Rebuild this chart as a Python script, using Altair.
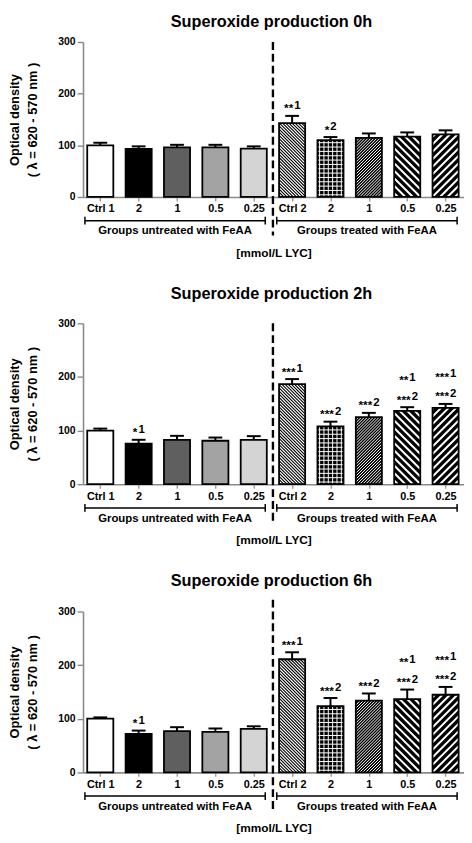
import json
import altair as alt
import pandas as pd

# ---------------- data ----------------
labels = ["Ctrl 1", "2", "1", "0.5", "0.25", "Ctrl 2", "2", "1", "0.5", "0.25"]
groups = ["Groups untreated with FeAA"] * 5 + ["Groups treated with FeAA"] * 5
titles = ["Superoxide production 0h", "Superoxide production 2h", "Superoxide production 6h"]
x_title = "[mmol/L LYC]"
y_title = ["Optical density", "( λ = 620 - 570 nm )"]

mean_0h = [100, 93, 96, 96, 93.5, 143, 110, 114.6, 117, 121]
err_0h = [105, 98, 101, 101, 98, 157, 116, 123, 125, 129]
mean_2h = [100, 75.5, 82.8, 81, 82.8, 186.5, 108, 125, 136.8, 142.3]
err_2h = [103.7, 82.8, 90.2, 87, 89.6, 196, 116.6, 133, 143.6, 149.7]
mean_6h = [100.2, 72, 77, 75.7, 81.2, 211, 123.4, 133.8, 136.8, 144.8]
err_6h = [102.6, 78, 84.3, 81.9, 86, 224, 138.7, 147.2, 154.5, 159.4]

# significance annotations: bar index, stars, comparison digit, stacking row
ann_bar_0h = [5, 6]
ann_stars_0h = ["**", "*"]
ann_digit_0h = ["1", "2"]
ann_row_0h = [0, 0]

ann_bar_2h = [1, 5, 6, 7, 8, 8, 9, 9]
ann_stars_2h = ["*", "***", "***", "***", "***", "**", "***", "***"]
ann_digit_2h = ["1", "1", "2", "2", "2", "1", "2", "1"]
ann_row_2h = [0, 0, 0, 0, 0, 1, 0, 1]

ann_bar_6h = [1, 5, 6, 7, 8, 8, 9, 9]
ann_stars_6h = ["*", "***", "***", "***", "***", "**", "***", "***"]
ann_digit_6h = ["1", "1", "2", "2", "2", "1", "2", "1"]
ann_row_6h = [0, 0, 0, 0, 0, 1, 0, 1]

MEANS = [mean_0h, mean_2h, mean_6h]
ERRS = [err_0h, err_2h, err_6h]
ANNS = [
    (ann_bar_0h, ann_stars_0h, ann_digit_0h, ann_row_0h),
    (ann_bar_2h, ann_stars_2h, ann_digit_2h, ann_row_2h),
    (ann_bar_6h, ann_stars_6h, ann_digit_6h, ann_row_6h),
]

# ---------------- style ----------------
FONT = "Liberation Sans"
W = 386
X_DOMAIN = [-0.45, 9.48]
PXU = W / (X_DOMAIN[1] - X_DOMAIN[0])
HEIGHTS = [157, 163, 163]
TITLE_OFFSETS = [7, 16, 9]
DASH_TOP = [0, 0, -12]
HALF = 0.34
CAP = 0.18
GREY = "#8a8a8a"
BAR_FILLS = ["white", "black", "#5f5f5f", "#a3a3a3", "#d4d4d4",
             "white", "black", "black", "black", "black"]
HATCH = [None] * 5 + ["back_dense", "grid", "fwd_dense", "back_wide", "fwd_wide"]
HATCH_STYLE = {  # colour, stroke width, horizontal spacing (px)
    "back_dense": ("black", 1.1, 3.2),
    "grid": ("white", 1.0, 4.4),
    "fwd_dense": ("white", 1.0, 3.0),
    "back_wide": ("white", 2.0, 7.6),
    "fwd_wide": ("white", 2.0, 7.6),
}
STAR_W, GAP, DIGIT_W = 4.7, 1.0, 6.1


def hatch_table(means, H):
    pyu = H / 300.0
    rows = []
    wb = 2 * HALF * PXU
    for i, (m, kind) in enumerate(zip(means, HATCH)):
        if kind is None:
            continue
        _, _, s = HATCH_STYLE[kind]
        hb = m * pyu
        segs = []
        if kind == "grid":
            u = s / 2
            while u < wb:
                segs.append((u, 0, u, hb))
                u += s
            v = s / 2
            while v < hb:
                segs.append((0, v, wb, v))
                v += s
        elif kind.startswith("fwd"):
            c = -wb + s / 2
            while c < hb:
                u0, u1 = max(0, -c), min(wb, hb - c)
                if u1 > u0:
                    segs.append((u0, u0 + c, u1, u1 + c))
                c += s
        else:
            c = s / 2
            while c < wb + hb:
                u0, u1 = max(0, c - hb), min(wb, c)
                if u1 > u0:
                    segs.append((u0, c - u0, u1, c - u1))
                c += s
        for a, b, cc, d in segs:
            rows.append({"kind": kind,
                         "hx": i - HALF + a / PXU, "hy": b / pyu,
                         "hx2": i - HALF + cc / PXU, "hy2": d / pyu})
    return pd.DataFrame(rows)


def panel(k):
    H = HEIGHTS[k]
    means, errs = MEANS[k], ERRS[k]
    xs = alt.Scale(domain=X_DOMAIN, nice=False, zero=False)
    ys = alt.Scale(domain=[0, 300], nice=False, zero=True)

    bars = pd.DataFrame({"i": list(range(len(labels))), "label": labels,
                         "group": groups, "mean": means, "err": errs})
    base = alt.Chart(bars).transform_calculate(
        x1=f"datum.i - {HALF}", x2=f"datum.i + {HALF}",
        cl=f"datum.i - {CAP}", cr=f"datum.i + {CAP}")

    label_expr = json.dumps(labels) + "[datum.value]"
    x_axis = alt.Axis(values=list(range(len(labels))), labelExpr=label_expr,
                      title=x_title, titleY=56, titleX=W / 2, titleBaseline="middle",
                      titleFontSize=12, titleFontWeight="bold", titleColor="black",
                      labelFontSize=11, labelFontWeight="bold", labelColor="black",
                      labelPadding=2, tickSize=4, tickColor=GREY, tickWidth=1.2,
                      domainColor=GREY, domainWidth=1.6, grid=False,
                      labelOverlap=False, labelFlush=False)
    y_axis = alt.Axis(values=[0, 100, 200, 300], title=y_title,
                      titleX=-62.6, titleY=H / 2, titleFontSize=13,
                      titleFontWeight="bold", titleLineHeight=18, titleColor="black",
                      labelFontSize=10.5, labelFontWeight="bold", labelColor="black",
                      labelPadding=2, tickSize=6, tickColor=GREY, tickWidth=1.4,
                      domainColor=GREY, domainWidth=1.6, grid=False)

    fill = base.mark_rect().encode(
        x=alt.X("x1:Q", scale=xs, axis=x_axis),
        x2="x2:Q",
        y=alt.Y("mean:Q", scale=ys, axis=y_axis),
        y2=alt.datum(0),
        fill=alt.Fill("i:O", scale=alt.Scale(domain=list(range(len(labels))),
                                             range=BAR_FILLS), legend=None),
    )

    layers = [fill]
    ht = hatch_table(means, H)
    for kind, (col, sw, _) in HATCH_STYLE.items():
        sub = ht[ht["kind"] == kind]
        if len(sub) == 0:
            continue
        layers.append(alt.Chart(sub).mark_rule(color=col, strokeWidth=sw, strokeCap="butt").encode(
            x=alt.X("hx:Q", scale=xs, axis=None), x2="hx2:Q",
            y=alt.Y("hy:Q", scale=ys, axis=None), y2="hy2:Q"))

    outline = base.mark_rect(fillOpacity=0, stroke="black", strokeWidth=1.8).encode(
        x=alt.X("x1:Q", scale=xs, axis=None), x2="x2:Q",
        y=alt.Y("mean:Q", scale=ys, axis=None), y2=alt.datum(0))
    err_line = base.mark_rule(color="black", strokeWidth=2).encode(
        x=alt.X("i:Q", scale=xs, axis=None),
        y=alt.Y("mean:Q", scale=ys, axis=None), y2="err:Q")
    err_cap = base.mark_rule(color="black", strokeWidth=2).encode(
        x=alt.X("cl:Q", scale=xs, axis=None), x2="cr:Q",
        y=alt.Y("err:Q", scale=ys, axis=None))
    layers += [outline, err_line, err_cap]

    # annotations
    a_bar, a_st, a_dg, a_row = ANNS[k]
    ann = pd.DataFrame({"i": a_bar, "stars": a_st, "digit": a_dg, "row": a_row,
                        "err": [errs[b] for b in a_bar]})
    abase = alt.Chart(ann).transform_calculate(
        xa=f"datum.i + ({STAR_W} * length(datum.stars) - {GAP} - {DIGIT_W}) / 2 / {PXU}")
    for r in (0, 1):
        sub = abase.transform_filter(f"datum.row == {r}")
        layers.append(sub.mark_text(align="right", baseline="alphabetic", fontSize=12,
                                    fontWeight="bold", color="black", dy=-(3.5 + 20 * r)).encode(
            x=alt.X("xa:Q", scale=xs, axis=None), y=alt.Y("err:Q", scale=ys, axis=None),
            text="stars:N"))
        layers.append(sub.mark_text(align="left", baseline="alphabetic", fontSize=11.5,
                                    fontWeight="bold", color="black", dx=GAP,
                                    dy=-(7 + 20 * r)).encode(
            x=alt.X("xa:Q", scale=xs, axis=None), y=alt.Y("err:Q", scale=ys, axis=None),
            text="digit:N"))

    # group brackets
    names = list(dict.fromkeys(groups))
    starts = [groups.index(g) for g in names]
    ends = [len(groups) - 1 - groups[::-1].index(g) for g in names]
    gdf = pd.DataFrame({"group": names, "start": starts, "end": ends})
    gbase = alt.Chart(gdf).transform_calculate(
        xl="datum.start - 0.4", xr="datum.end + 0.3", xm="(datum.start + datum.end - 0.1) / 2")
    layers.append(gbase.mark_rule(color="black", strokeWidth=1.5).encode(
        x=alt.X("xl:Q", scale=xs, axis=None), x2="xr:Q", y=alt.value(H + 24)))
    for f in ("xl", "xr"):
        layers.append(gbase.mark_rule(color="black", strokeWidth=1.5).encode(
            x=alt.X(f"{f}:Q", scale=xs, axis=None), y=alt.value(H + 20), y2=alt.value(H + 28)))
    layers.append(gbase.mark_text(fontSize=11.5, fontWeight="bold", baseline="middle",
                                  color="black").encode(
        x=alt.X("xm:Q", scale=xs, axis=None), y=alt.value(H + 35), text="group:N"))

    # dashed separator between the two groups
    boundary = (ends[0] + starts[1]) / 2
    layers.append(alt.Chart(pd.DataFrame({"b": [boundary]})).mark_rule(
        color="black", strokeWidth=2.4, strokeDash=[8, 4]).encode(
        x=alt.X("b:Q", scale=xs, axis=None), y=alt.value(DASH_TOP[k]), y2=alt.value(H + 39)))

    return alt.layer(*layers).resolve_axis(x="independent", y="independent").properties(
        width=W, height=H,
        title=alt.TitleParams(text=titles[k], fontSize=16.5, fontWeight="bold", font=FONT,
                              anchor="middle", frame="group", offset=TITLE_OFFSETS[k],
                              dx=-2, color="black"))


chart = alt.vconcat(*[panel(k) for k in range(3)], spacing=28).properties(
    padding={"left": 0, "right": 0, "top": 0, "bottom": 0}
).configure(font=FONT).configure_view(stroke=None)

chart.save("out.html", embed_options={"renderer": "svg", "actions": False})
